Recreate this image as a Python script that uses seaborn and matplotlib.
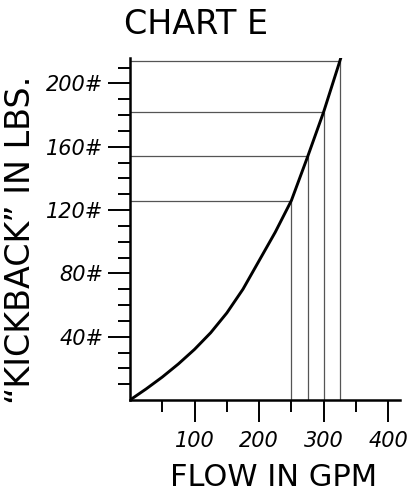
import pandas as pd
import seaborn as sns
import matplotlib.pyplot as plt
from matplotlib.ticker import FixedLocator

# curve (flow in gpm -> kickback in lbs)
flow_gpm = [0, 25, 50, 75, 100, 125, 150, 175, 200, 225, 250, 275, 300, 325, 328]
kickback_lbs = [0, 7, 14.5, 22.8, 32, 42.5, 55, 70, 88, 106, 126, 153.5, 182, 214, 218]

# reading lines
ref_flow = [250, 275, 300, 325]
ref_kick = [126, 154, 182, 214]

x_ticks = [100, 200, 300, 400]
x_minor = [50, 150, 250, 350]
x_labels = ['100', '200', '300', '400']
y_ticks = [40, 80, 120, 160, 200]
y_minor = [10, 20, 30, 50, 60, 70, 90, 100, 110, 130, 140, 150, 170, 180, 190, 210]
y_labels = ['40#', '80#', '120#', '160#', '200#']

sns.set_style('ticks')
plt.rcParams['font.family'] = ['DejaVu Sans']
plt.rcParams['text.color'] = 'black'
plt.rcParams['xtick.color'] = 'black'
plt.rcParams['ytick.color'] = 'black'

df = pd.DataFrame({'flow': flow_gpm, 'kick': kickback_lbs})

fig = plt.figure(figsize=(4.12, 4.96), dpi=100)
ax = fig.add_axes([0.3155, 0.1935, 0.655, 0.6895])

ax.hlines(ref_kick, 0, ref_flow, color='#555555', lw=0.9)
ax.vlines(ref_flow, 0, ref_kick, color='#555555', lw=0.9)
sns.lineplot(data=df, x='flow', y='kick', color='black', lw=2.1, ax=ax)

ax.set_xlim(0, 418)
ax.set_ylim(0, 216)
ax.xaxis.set_major_locator(FixedLocator(x_ticks))
ax.xaxis.set_minor_locator(FixedLocator(x_minor))
ax.set_xticklabels(x_labels, fontstyle='italic', fontsize=15)
ax.yaxis.set_major_locator(FixedLocator(y_ticks))
ax.yaxis.set_minor_locator(FixedLocator(y_minor))
ax.set_yticklabels(y_labels, fontstyle='italic', fontsize=15)
ax.set_xlabel('')
ax.set_ylabel('')

ax.tick_params(which='major', direction='out', length=16, width=1.4, color='black')
ax.tick_params(which='minor', direction='out', length=8.5, width=1.4, color='black')
ax.tick_params(axis='x', which='major', pad=6)
ax.tick_params(axis='y', which='major', pad=3)

sns.despine(ax=ax)
for side in ['left', 'bottom']:
    ax.spines[side].set_linewidth(1.8)
    ax.spines[side].set_color('black')

fig.text(196 / 412, 1 - 24 / 496, 'CHART E', ha='center', va='center', fontsize=24)
fig.text(21 / 412, 1 - 240 / 496, '\u201cKICKBACK\u201d IN LBS.', ha='center', va='center',
         rotation=90, fontsize=24)
fig.text(274 / 412, 1 - 478 / 496, 'FLOW IN GPM', ha='center', va='center', fontsize=22)

fig.savefig('out.png', dpi=100)
